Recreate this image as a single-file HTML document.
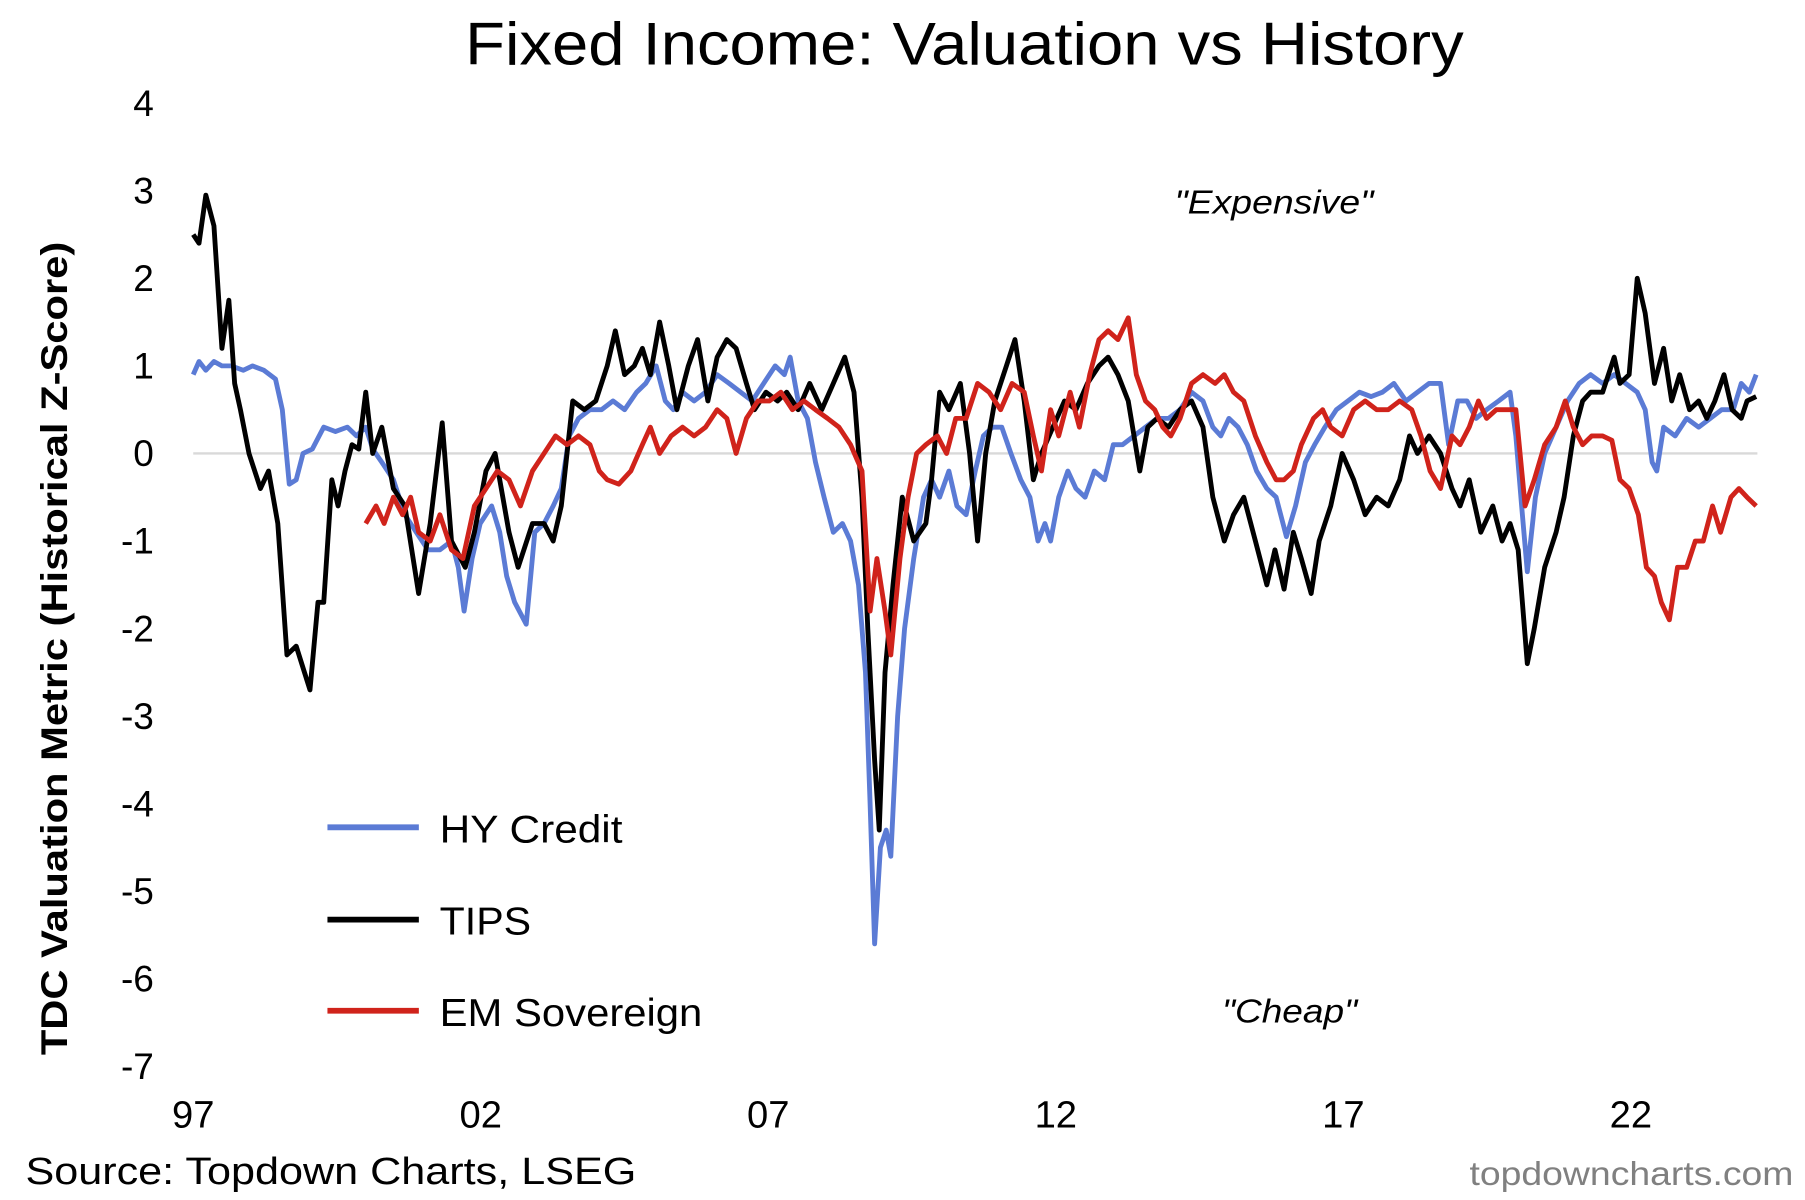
<!DOCTYPE html>
<html><head><meta charset="utf-8"><style>
html,body{margin:0;padding:0;background:#fff;}
svg{display:block;font-family:"Liberation Sans",Arial,sans-serif;}
</style></head><body>
<svg id="chart" width="1805" height="1200" viewBox="0 0 1560 1040" preserveAspectRatio="none" xmlns="http://www.w3.org/2000/svg">
<rect width="1560" height="1040" fill="#fff"/>
<text x="402" y="56" font-size="52" textLength="863" lengthAdjust="spacingAndGlyphs" fill="#000">Fixed Income: Valuation vs History</text>
<text transform="translate(58,562) rotate(-90)" font-size="32" font-weight="bold" text-anchor="middle" textLength="705" lengthAdjust="spacingAndGlyphs" fill="#000">TDC Valuation Metric (Historical Z-Score)</text>
<g id="yticks"></g>
<g id="xticks"></g>
<line id="zeroline" stroke="#d9d9d9" stroke-width="2"/>
<g id="series"></g>
<text x="1015" y="185" font-size="29" font-style="italic" textLength="172" lengthAdjust="spacingAndGlyphs">"Expensive"</text>
<text x="1056" y="886" font-size="29" font-style="italic" textLength="117" lengthAdjust="spacingAndGlyphs">"Cheap"</text>
<g>
<line x1="283" y1="717" x2="362" y2="717" stroke="#5b7bd5" stroke-width="5"/>
<text x="380" y="730" font-size="34" textLength="158" lengthAdjust="spacingAndGlyphs">HY Credit</text>
<line x1="283" y1="797" x2="362" y2="797" stroke="#000" stroke-width="5"/>
<text x="380" y="810" font-size="34" textLength="79" lengthAdjust="spacingAndGlyphs">TIPS</text>
<line x1="283" y1="876" x2="362" y2="876" stroke="#d0231b" stroke-width="5"/>
<text x="380" y="889" font-size="34" textLength="227" lengthAdjust="spacingAndGlyphs">EM Sovereign</text>
</g>
<text x="22" y="1026" font-size="33" textLength="528" lengthAdjust="spacingAndGlyphs">Source: Topdown Charts, LSEG</text>
<text x="1270" y="1027" font-size="29" fill="#808080" textLength="280" lengthAdjust="spacingAndGlyphs">topdowncharts.com</text>
</svg>
<script>
const yTicks=[4,3,2,1,0,-1,-2,-3,-4,-5,-6,-7];
const xTickYears=[1997,2002,2007,2012,2017,2022];
const xTickLabels=["97","02","07","12","17","22"];
const hyDates=[1997.00,1997.10,1997.22,1997.36,1997.50,1997.66,1997.87,1998.03,1998.23,1998.43,1998.55,1998.67,1998.79,1998.91,1999.07,1999.27,1999.47,1999.68,1999.84,2000.00,2000.12,2000.28,2000.48,2000.68,2000.88,2001.08,2001.29,2001.49,2001.61,2001.71,2001.85,2001.99,2002.19,2002.33,2002.45,2002.59,2002.79,2002.94,2003.10,2003.26,2003.40,2003.54,2003.70,2003.90,2004.10,2004.30,2004.50,2004.71,2004.87,2005.05,2005.21,2005.35,2005.51,2005.71,2005.91,2006.11,2006.32,2006.52,2006.72,2006.92,2007.12,2007.28,2007.38,2007.52,2007.68,2007.82,2007.97,2008.13,2008.29,2008.43,2008.57,2008.69,2008.77,2008.85,2008.95,2009.05,2009.13,2009.25,2009.37,2009.53,2009.70,2009.84,2009.98,2010.14,2010.28,2010.44,2010.60,2010.74,2010.90,2011.06,2011.22,2011.39,2011.55,2011.69,2011.81,2011.91,2012.05,2012.21,2012.35,2012.51,2012.67,2012.85,2013.00,2013.16,2013.36,2013.56,2013.76,2013.96,2014.16,2014.36,2014.56,2014.73,2014.87,2015.01,2015.17,2015.33,2015.49,2015.67,2015.83,2016.01,2016.17,2016.34,2016.50,2016.68,2016.88,2017.08,2017.28,2017.48,2017.68,2017.88,2018.09,2018.29,2018.49,2018.69,2018.83,2018.99,2019.15,2019.31,2019.49,2019.70,2019.90,2020.00,2020.10,2020.20,2020.34,2020.50,2020.70,2020.90,2021.10,2021.30,2021.51,2021.71,2021.91,2022.11,2022.25,2022.37,2022.45,2022.57,2022.77,2022.97,2023.18,2023.38,2023.58,2023.78,2023.92,2024.06,2024.18];
const hyValues=[0.9,1.05,0.95,1.05,1.0,1.0,0.95,1.0,0.95,0.85,0.5,-0.35,-0.3,0.0,0.05,0.3,0.25,0.3,0.2,0.3,0.05,-0.1,-0.3,-0.7,-0.9,-1.1,-1.1,-1.0,-1.3,-1.8,-1.2,-0.8,-0.6,-0.9,-1.4,-1.7,-1.95,-0.9,-0.8,-0.6,-0.4,0.2,0.4,0.5,0.5,0.6,0.5,0.7,0.8,1.0,0.6,0.5,0.7,0.6,0.7,0.9,0.8,0.7,0.6,0.8,1.0,0.9,1.1,0.6,0.4,-0.1,-0.5,-0.9,-0.8,-1.0,-1.5,-2.5,-4.0,-5.6,-4.5,-4.3,-4.6,-3.0,-2.0,-1.2,-0.5,-0.3,-0.5,-0.2,-0.6,-0.7,-0.2,0.2,0.3,0.3,0.0,-0.3,-0.5,-1.0,-0.8,-1.0,-0.5,-0.2,-0.4,-0.5,-0.2,-0.3,0.1,0.1,0.2,0.3,0.4,0.4,0.5,0.7,0.6,0.3,0.2,0.4,0.3,0.1,-0.2,-0.4,-0.5,-0.95,-0.6,-0.1,0.1,0.3,0.5,0.6,0.7,0.65,0.7,0.8,0.6,0.7,0.8,0.8,0.1,0.6,0.6,0.4,0.5,0.6,0.7,0.2,-0.6,-1.35,-0.5,0.0,0.3,0.6,0.8,0.9,0.8,0.9,0.8,0.7,0.5,-0.1,-0.2,0.3,0.2,0.4,0.3,0.4,0.5,0.5,0.8,0.7,0.9];
const tipsDates=[1997.00,1997.10,1997.22,1997.36,1997.50,1997.62,1997.72,1997.82,1997.97,1998.17,1998.31,1998.47,1998.63,1998.79,1999.03,1999.17,1999.27,1999.41,1999.52,1999.64,1999.76,1999.88,2000.00,2000.12,2000.28,2000.48,2000.68,2000.92,2001.12,2001.33,2001.49,2001.73,2001.89,2002.09,2002.25,2002.49,2002.65,2002.90,2003.10,2003.26,2003.40,2003.60,2003.80,2004.00,2004.20,2004.34,2004.50,2004.67,2004.81,2004.95,2005.11,2005.27,2005.41,2005.61,2005.77,2005.95,2006.11,2006.28,2006.44,2006.62,2006.76,2006.96,2007.16,2007.32,2007.52,2007.72,2007.93,2008.13,2008.33,2008.49,2008.63,2008.73,2008.85,2008.93,2009.03,2009.17,2009.33,2009.53,2009.74,2009.84,2009.98,2010.14,2010.34,2010.50,2010.64,2010.78,2010.94,2011.14,2011.29,2011.45,2011.61,2011.75,2011.95,2012.15,2012.35,2012.55,2012.75,2012.91,2013.08,2013.26,2013.46,2013.60,2013.76,2013.96,2014.16,2014.36,2014.56,2014.73,2014.93,2015.09,2015.27,2015.47,2015.67,2015.81,2015.97,2016.13,2016.27,2016.44,2016.58,2016.78,2016.98,2017.18,2017.38,2017.58,2017.78,2017.98,2018.15,2018.29,2018.49,2018.69,2018.89,2019.03,2019.19,2019.39,2019.60,2019.76,2019.90,2020.04,2020.20,2020.32,2020.50,2020.70,2020.84,2021.00,2021.16,2021.30,2021.51,2021.71,2021.81,2021.97,2022.11,2022.25,2022.41,2022.57,2022.71,2022.85,2023.02,2023.18,2023.32,2023.46,2023.62,2023.76,2023.92,2024.02,2024.18];
const tipsValues=[2.5,2.4,2.95,2.6,1.2,1.75,0.8,0.5,0.0,-0.4,-0.2,-0.8,-2.3,-2.2,-2.7,-1.7,-1.7,-0.3,-0.6,-0.2,0.1,0.05,0.7,0.0,0.3,-0.4,-0.6,-1.6,-0.8,0.35,-1.0,-1.3,-0.9,-0.2,0.0,-0.9,-1.3,-0.8,-0.8,-1.0,-0.6,0.6,0.5,0.6,1.0,1.4,0.9,1.0,1.2,0.9,1.5,1.0,0.5,1.0,1.3,0.6,1.1,1.3,1.2,0.8,0.5,0.7,0.6,0.7,0.5,0.8,0.5,0.8,1.1,0.7,-0.5,-2.0,-3.5,-4.3,-2.5,-1.5,-0.5,-1.0,-0.8,-0.3,0.7,0.5,0.8,0.0,-1.0,0.0,0.6,1.0,1.3,0.6,-0.3,0.0,0.3,0.6,0.5,0.8,1.0,1.1,0.9,0.6,-0.2,0.3,0.4,0.3,0.5,0.6,0.3,-0.5,-1.0,-0.7,-0.5,-1.0,-1.5,-1.1,-1.55,-0.9,-1.2,-1.6,-1.0,-0.6,0.0,-0.3,-0.7,-0.5,-0.6,-0.3,0.2,0.0,0.2,0.0,-0.4,-0.6,-0.3,-0.9,-0.6,-1.0,-0.8,-1.1,-2.4,-2.0,-1.3,-0.9,-0.5,0.2,0.6,0.7,0.7,1.1,0.8,0.9,2.0,1.6,0.8,1.2,0.6,0.9,0.5,0.6,0.4,0.6,0.9,0.5,0.4,0.6,0.65];
const emDates=[2000.00,2000.18,2000.32,2000.48,2000.64,2000.78,2000.92,2001.12,2001.29,2001.49,2001.69,2001.89,2002.09,2002.29,2002.49,2002.69,2002.90,2003.10,2003.30,2003.50,2003.70,2003.90,2004.06,2004.20,2004.40,2004.61,2004.81,2004.95,2005.11,2005.31,2005.51,2005.71,2005.91,2006.11,2006.28,2006.44,2006.62,2006.82,2007.02,2007.22,2007.42,2007.62,2007.82,2008.03,2008.23,2008.43,2008.63,2008.77,2008.89,2009.03,2009.13,2009.29,2009.43,2009.58,2009.74,2009.94,2010.10,2010.26,2010.44,2010.64,2010.84,2011.04,2011.24,2011.45,2011.61,2011.75,2011.91,2012.05,2012.25,2012.41,2012.59,2012.75,2012.91,2013.08,2013.26,2013.40,2013.56,2013.72,2013.86,2014.00,2014.16,2014.36,2014.56,2014.77,2014.93,2015.09,2015.27,2015.47,2015.67,2015.83,2015.97,2016.13,2016.27,2016.48,2016.64,2016.78,2016.98,2017.18,2017.38,2017.58,2017.78,2017.98,2018.19,2018.35,2018.51,2018.69,2018.89,2019.03,2019.19,2019.35,2019.49,2019.66,2019.80,2020.00,2020.16,2020.32,2020.50,2020.70,2020.86,2021.00,2021.16,2021.32,2021.51,2021.67,2021.81,2021.97,2022.13,2022.27,2022.41,2022.53,2022.67,2022.81,2022.97,2023.12,2023.26,2023.42,2023.56,2023.74,2023.88,2024.02,2024.18];
const emValues=[-0.8,-0.6,-0.8,-0.5,-0.7,-0.5,-0.9,-1.0,-0.7,-1.1,-1.2,-0.6,-0.4,-0.2,-0.3,-0.6,-0.2,0.0,0.2,0.1,0.2,0.1,-0.2,-0.3,-0.35,-0.2,0.1,0.3,0.0,0.2,0.3,0.2,0.3,0.5,0.4,0.0,0.4,0.6,0.6,0.7,0.5,0.6,0.5,0.4,0.3,0.1,-0.2,-1.8,-1.2,-1.8,-2.3,-1.2,-0.5,0.0,0.1,0.2,0.0,0.4,0.4,0.8,0.7,0.5,0.8,0.7,0.2,-0.2,0.5,0.2,0.7,0.3,0.9,1.3,1.4,1.3,1.55,0.9,0.6,0.5,0.3,0.2,0.4,0.8,0.9,0.8,0.9,0.7,0.6,0.2,-0.1,-0.3,-0.3,-0.2,0.1,0.4,0.5,0.3,0.2,0.5,0.6,0.5,0.5,0.6,0.5,0.2,-0.2,-0.4,0.2,0.1,0.3,0.6,0.4,0.5,0.5,0.5,-0.6,-0.3,0.1,0.3,0.6,0.3,0.1,0.2,0.2,0.15,-0.3,-0.4,-0.7,-1.3,-1.4,-1.7,-1.9,-1.3,-1.3,-1.0,-1.0,-0.6,-0.9,-0.5,-0.4,-0.5,-0.6];

const NS='http://www.w3.org/2000/svg';
const X0=167,XPY=49.7,Y0=393,YPU=75.9;
function xScale(yr){return X0+(yr-1997)*XPY;}
function yScale(v){return Y0-v*YPU;}
const yg=document.getElementById('yticks');
yTicks.forEach(v=>{
  const t=document.createElementNS(NS,'text');
  
  
  t.setAttribute('x',133);t.setAttribute('y',yScale(v)+11);
  t.setAttribute('font-size','32');t.setAttribute('text-anchor','end');
  t.textContent=String(v);yg.appendChild(t);
});
const xg=document.getElementById('xticks');
xTickYears.forEach((yr,i)=>{
  const t=document.createElementNS(NS,'text');
  
  
  t.setAttribute('x',xScale(yr));t.setAttribute('y',977);
  t.setAttribute('font-size','33');t.setAttribute('text-anchor','middle');
  t.textContent=xTickLabels[i];xg.appendChild(t);
});
const z=document.getElementById('zeroline');
z.setAttribute('x1',xScale(1997));z.setAttribute('x2',xScale(2024.2));
z.setAttribute('y1',yScale(0));z.setAttribute('y2',yScale(0));
const sg=document.getElementById('series');
function draw(dates,vals,color,name){
  const p=document.createElementNS(NS,'polyline');
  
  
  p.setAttribute('points',dates.map((d,i)=>xScale(d).toFixed(1)+','+yScale(vals[i]).toFixed(1)).join(' '));
  p.setAttribute('fill','none');p.setAttribute('stroke',color);
  p.setAttribute('stroke-width','4.2');p.setAttribute('stroke-linejoin','round');
  sg.appendChild(p);
}
draw(hyDates,hyValues,'#5b7bd5','hy-credit-line');
draw(tipsDates,tipsValues,'#000000','tips-line');
draw(emDates,emValues,'#d0231b','em-sovereign-line');
</script>
</body></html>
